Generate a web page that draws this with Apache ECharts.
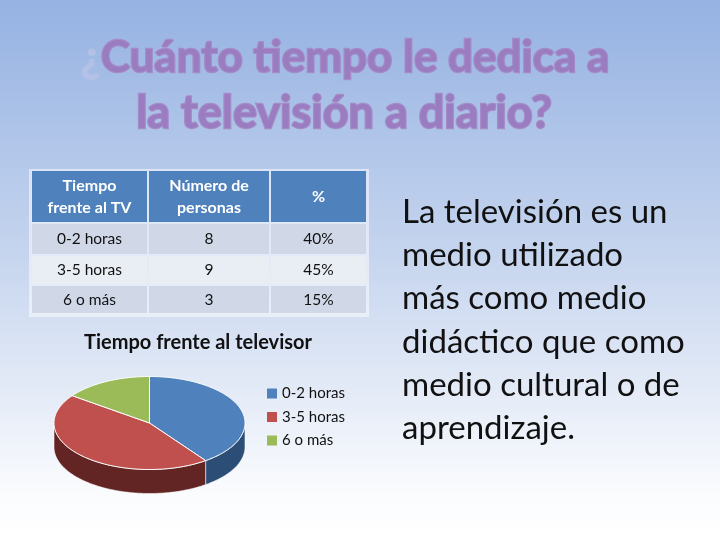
<!DOCTYPE html>
<html><head><meta charset="utf-8">
<script src="https://cdn.jsdelivr.net/npm/echarts@6/dist/echarts.min.js"></script>
<style>html,body{margin:0;padding:0;}#c{width:720px;height:540px;}</style>
</head><body><div id="c"></div>
<script>
const titleQuestionMark = '¿';
const titleLine1 = 'Cuánto tiempo le dedica a';
const titleLine2 = 'la televisión a diario?';
const tableHeader = ['Tiempo\nfrente al TV', 'Número de\npersonas', '%'];
const categories = ['0-2 horas', '3-5 horas', '6 o más'];
const personas = [8, 9, 3];
const percentLabels = ['40%', '45%', '15%'];
const chartTitle = 'Tiempo frente al televisor';
const sideText = ['La televisión es un', 'medio utilizado', 'más como medio', 'didáctico que como', 'medio cultural o de', 'aprendizaje.'];

const FONT = 'Lato';
const colors = ['#4f81bd', '#c0504d', '#9bbb59'];
const sideColors = ['#2c4d75', '#632523', '#5f7530'];

const chart = echarts.init(document.getElementById('c'), null, {renderer: 'canvas'});

// ---- table graphics ----
const colX = [31, 148, 270, 367];
const rowY = [171, 224, 256, 286, 315];
const g = [];
g.push({type: 'rect', shape: {x: 29, y: 169, width: 340, height: 148}, style: {fill: 'rgba(255,255,255,0.5)'}, z: 1});
for (let c = 0; c < 3; c++) {
  g.push({type: 'rect', shape: {x: colX[c] + 1, y: rowY[0], width: colX[c + 1] - colX[c] - 2, height: rowY[1] - rowY[0] - 2}, style: {fill: '#4f81bd'}, z: 2});
  g.push({type: 'text', x: (colX[c] + colX[c + 1]) / 2, y: (rowY[0] + rowY[1]) / 2 - 1, z: 3,
    style: {text: tableHeader[c], fontFamily: FONT, fontSize: 16, fontWeight: 'bold', fill: '#ffffff', align: 'center', verticalAlign: 'middle', lineHeight: 22}});
}
for (let r = 0; r < categories.length; r++) {
  const cells = [categories[r], String(personas[r]), percentLabels[r]];
  for (let c = 0; c < 3; c++) {
    g.push({type: 'rect', shape: {x: colX[c] + 1, y: rowY[r + 1], width: colX[c + 1] - colX[c] - 2, height: rowY[r + 2] - rowY[r + 1] - 2}, style: {fill: r % 2 === 0 ? '#d0d8e8' : '#e9edf4'}, z: 2});
    g.push({type: 'text', x: (colX[c] + colX[c + 1]) / 2, y: (rowY[r + 1] + rowY[r + 2]) / 2 - 1, z: 3,
      style: {text: cells[c], fontFamily: FONT, fontSize: 15.5, fill: '#111111', align: 'center', verticalAlign: 'middle'}});
  }
}
// ---- slide title ----
const titleStyle = {fontFamily: FONT, fontWeight: 'bold', fontSize: 44, fill: '#9a7cc0', stroke: '#a58bc8', lineWidth: 2.4};
g.push({type: 'text', x: 345, y: 58, z: 3, style: Object.assign({}, titleStyle, {
  text: '{q|' + titleQuestionMark + '}' + titleLine1, align: 'center', verticalAlign: 'middle',
  rich: {q: {fontFamily: FONT, fontWeight: 'bold', fontSize: 44, fill: '#b4c0e6', stroke: '#b4c0e6', lineWidth: 1}}})});
g.push({type: 'text', x: 344, y: 113, z: 3, style: Object.assign({}, titleStyle, {text: titleLine2, align: 'center', verticalAlign: 'middle', fontSize: 45})});
// ---- chart title ----
g.push({type: 'text', x: 198, y: 343, z: 3, style: {text: chartTitle, fontFamily: FONT, fontWeight: 'bold', fontSize: 20, fill: '#111111', align: 'center', verticalAlign: 'middle'}});
// ---- side paragraph ----
sideText.forEach((t, i) => {
  g.push({type: 'text', x: 402, y: 212 + i * 43.3, z: 3, style: {text: t, fontFamily: FONT, fontSize: 33, fill: '#111111', align: 'left', verticalAlign: 'middle'}});
});

// ---- 3D pie via custom series ----
const cx = 149.5, cy = 423, rx = 95.5, ry = 46.5, depth = 24;
const total = personas.reduce((a, b) => a + b, 0);
function pt(deg, dy) {
  const r = deg * Math.PI / 180;
  return [cx + rx * Math.sin(r), cy - ry * Math.cos(r) + (dy || 0)];
}
const series = categories.map((name, i) => ({
  type: 'custom', name: name, coordinateSystem: 'none', data: [personas[i]],
  itemStyle: {color: colors[i]},
  renderItem: function (params, api) {
    const before = personas.slice(0, i).reduce((a, b) => a + b, 0);
    const a0 = before / total * 360, a1 = (before + api.value(0)) / total * 360;
    const children = [];
    const s = Math.max(a0, 90), e = Math.min(a1, 270);
    if (e > s) {
      const w = [];
      for (let a = s; a < e; a += 1) w.push(pt(a));
      w.push(pt(e));
      for (let a = e; a > s; a -= 1) w.push(pt(a, depth));
      w.push(pt(s, depth));
      children.push({type: 'polygon', shape: {points: w}, style: {fill: sideColors[i], stroke: 'rgba(255,255,255,0.7)', lineWidth: 0.8}});
    }
    const p = [[cx, cy]];
    for (let a = a0; a < a1; a += 1) p.push(pt(a));
    p.push(pt(a1));
    children.push({type: 'polygon', shape: {points: p}, style: {fill: colors[i], stroke: '#ffffff', lineWidth: 1}});
    return {type: 'group', children: children};
  }
}));

chart.setOption({
  animation: false,
  backgroundColor: new echarts.graphic.LinearGradient(0, 0, 0, 1, [
    {offset: 0, color: '#95b2e2'}, {offset: 0.5, color: '#c9d7ef'}, {offset: 0.92, color: '#fbfcfe'}, {offset: 1, color: '#ffffff'}]),
  legend: {
    orient: 'vertical', left: 262, top: 381, icon: 'rect', itemWidth: 10, itemHeight: 10, itemGap: 8.5,
    data: categories,
    textStyle: {fontFamily: FONT, fontSize: 15, color: '#111111'}
  },
  graphic: g,
  series: series
});
</script>
</body></html>
